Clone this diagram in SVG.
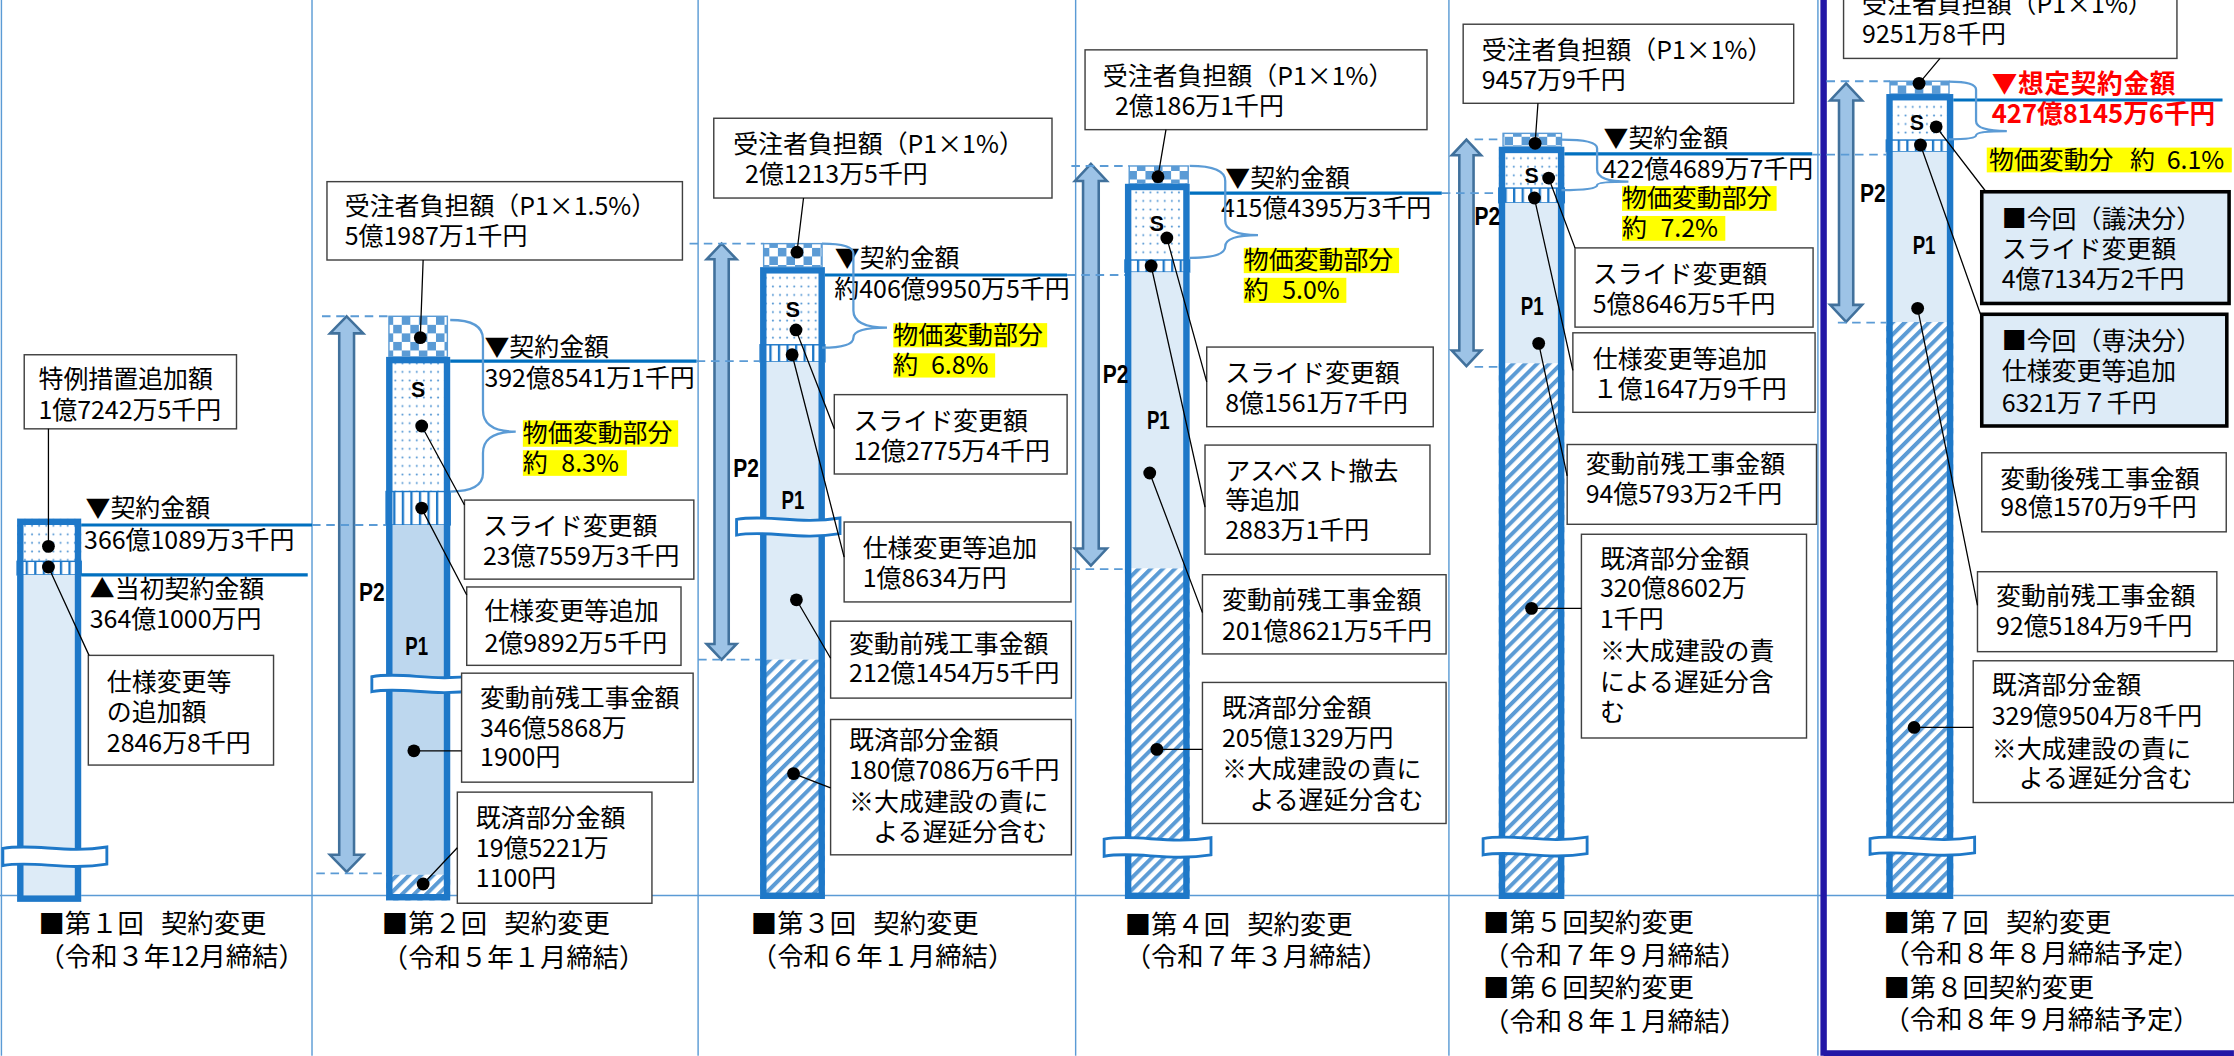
<svg xmlns="http://www.w3.org/2000/svg" width="2234" height="1056" viewBox="0 0 2234 1056">
<defs>
<style>
.t{font-family:"Noto Sans CJK JP","Noto Sans CJK SC",sans-serif;font-size:17.5px;fill:#000}
.cap{font-size:18.5px}
.red{fill:#FF0000;font-weight:bold;font-size:18px}
.lbl{font-family:"Liberation Sans",Arial,sans-serif;font-weight:bold;fill:#000}
.pl{font-size:18px}
.sl{font-size:15px}
.box{fill:#fff;stroke:#404040;stroke-width:1}
.bbox{fill:#DDEBF7;stroke:#000;stroke-width:2.5}
.lead{stroke:#000;stroke-width:0.9;fill:none}
.bar{fill:none;stroke:#1E78C8;stroke-width:4.5}
.cl{stroke:#0070C0;stroke-width:2.2;fill:none}
.dash{stroke:#5B9BD5;stroke-width:1.3;stroke-dasharray:6 4;fill:none}
.sep{stroke:#5B9BD5;stroke-width:1;fill:none}
.brace{fill:none;stroke:#5B9BD5;stroke-width:1.6}
.arr{fill:#9DC3E6;stroke:#41719C;stroke-width:1.8}
.brk{fill:#fff;stroke:#1E78C8;stroke-width:2}
.hl{fill:#FFFF00}
.p1a{fill:#DDEBF7}
.p1b{fill:#BDD7EE}
.chk{fill:url(#chk);stroke:#5B9BD5;stroke-width:1}
.dts{fill:url(#dots)}
.vs{fill:url(#vst);stroke:#1E78C8;stroke-width:1}
.hat{fill:url(#hat)}
</style>
<pattern id="chk" width="12" height="12" patternUnits="userSpaceOnUse"><rect width="12" height="12" fill="#fff"/><rect width="6" height="6" fill="#5B9BD5"/><rect x="6" y="6" width="6" height="6" fill="#5B9BD5"/></pattern>
<pattern id="dots" width="5" height="6" patternUnits="userSpaceOnUse"><rect width="5" height="6" fill="#fff"/><circle cx="2.5" cy="3" r="0.75" fill="#5B9BD5"/></pattern>
<pattern id="vst" width="6" height="10" patternUnits="userSpaceOnUse"><rect width="6" height="10" fill="#fff"/><rect width="1.6" height="10" fill="#1E78C8"/></pattern>
<pattern id="hat" width="6" height="6" patternUnits="userSpaceOnUse" patternTransform="rotate(45)"><rect width="6" height="6" fill="#fff"/><rect width="2.8" height="6" fill="#5B9BD5"/></pattern>
</defs>
<rect width="2234" height="1056" fill="#fff"/>
<g transform="scale(1.4247)">

<g id="grid">
<path class="sep" d="M1,0V741M219,0V741M490,0V741M755,0V741M1017,0V741M1276,0V741"/>
<path class="sep" stroke-width="1.3" d="M0,628.5H1568"/>
<path d="M1280,0V741M1280,739.5H1568" stroke="#2317A6" stroke-width="4.5" fill="none"/>
</g>

<g id="col1">
<g id="bar1">
<rect class="dts" x="12" y="364" width="45" height="30"/>
<rect class="vs" x="12" y="394" width="45" height="9.5"/>
<rect class="p1a" x="12" y="403.5" width="45" height="229.5"/>
<rect class="bar" x="14.25" y="366.25" width="40.5" height="264.5"/>
<path class="brk" d="M2,595.5 C23.9,591.5 45.8,599.5 75,594.5 L75,606.5 C45.8,611.5 23.9,603.5 2,607.5 Z"/>
</g>
<g id="c1-tokurei"><rect class="box" x="17" y="249" width="149" height="52"/>
<text class="t" x="27" y="272">特例措置追加額</text><text class="t" x="27" y="294">1億7242万5千円</text></g>
<g id="c1-shiyou"><rect class="box" x="62" y="460" width="130" height="77"/>
<text class="t" x="75" y="485">仕様変更等</text><text class="t" x="75" y="506">の追加額</text><text class="t" x="75" y="528">2846万8千円</text></g>
<g id="c1-labels">
<text class="t" x="60" y="363">▼契約金額</text><text class="t" x="59" y="385">366億1089万3千円</text>
<text class="t" x="63" y="420">▲当初契約金額</text><text class="t" x="63" y="441">364億1000万円</text>
<text class="t cap" x="27" y="655">■第１回 <tspan x="113">契約変更</tspan></text><text class="t cap" x="27" y="678">（令和３年12月締結）</text>
</g>
</g>

<g id="col2">
<g id="bar2">
<path class="arr" d="M243.3,222 L255,234 L248.5,234 L248.5,600 L255,600 L243.3,612 L231.6,600 L238.1,600 L238.1,234 L231.6,234 Z"/>
<rect class="chk" x="273" y="222" width="41" height="28.5"/>
<rect class="dts" x="271" y="250.5" width="45" height="94.5"/>
<rect class="vs" x="271" y="345" width="45" height="23.5"/>
<rect class="p1b" x="271" y="368.5" width="45" height="245.5"/>
<rect class="hat" x="271" y="614" width="45" height="18"/>
<rect class="bar" x="273.25" y="252.75" width="40.5" height="377"/>
<path class="brk" d="M261,475 C282.6,471 304.2,479 333,474 L333,484.5 C304.2,489.5 282.6,481.5 261,485.5 Z"/>
<text class="lbl sl" x="293.5" y="279" text-anchor="middle">S</text>
<text class="lbl pl" x="284.5" y="460" textLength="16" lengthAdjust="spacingAndGlyphs">P1</text>
<text class="lbl pl" x="252" y="422" textLength="18" lengthAdjust="spacingAndGlyphs">P2</text>
</g>
<g id="c2-futan"><rect class="box" x="229.5" y="127.5" width="249.5" height="55"/>
<text class="t" x="242" y="151">受注者負担額（P1×1.5%）</text><text class="t" x="242" y="172">5億1987万1千円</text></g>
<g id="c2-slide"><rect class="box" x="326" y="351" width="161" height="55.5"/>
<text class="t" x="339" y="375.6">スライド変更額</text><text class="t" x="339" y="396.6">23億7559万3千円</text></g>
<g id="c2-shiyou"><rect class="box" x="327.6" y="412" width="150.4" height="55"/>
<text class="t" x="340" y="435">仕様変更等追加</text><text class="t" x="340" y="457.5">2億9892万5千円</text></g>
<g id="c2-zan"><rect class="box" x="324" y="472.5" width="162.5" height="76.5"/>
<text class="t" x="337" y="496">変動前残工事金額</text><text class="t" x="337" y="517">346億5868万</text><text class="t" x="337" y="538">1900円</text></g>
<g id="c2-kisai"><rect class="box" x="321" y="556" width="136.6" height="78"/>
<text class="t" x="334" y="580.5">既済部分金額</text><text class="t" x="334" y="601.5">19億5221万</text><text class="t" x="334" y="622.6">1100円</text></g>
<g id="c2-labels">
<text class="t" x="340" y="250">▼契約金額</text><text class="t" x="340" y="271.6">392億8541万1千円</text>
<rect class="hl" x="367" y="295" width="109" height="18.6"/><rect class="hl" x="367" y="316" width="73" height="18"/>
<text class="t" x="367" y="310">物価変動部分</text><text class="t" x="367" y="331">約 <tspan x="394">8.3%</tspan></text>
<text class="t cap" x="268" y="655">■第２回 <tspan x="354">契約変更</tspan></text><text class="t cap" x="268" y="678.6">（令和５年１月締結）</text>
</g>
</g>

<g id="col3">
<g id="bar3">
<path class="arr" d="M506.5,171 L517,182 L511.5,182 L511.5,452 L517,452 L506.5,463 L496,452 L501.5,452 L501.5,182 L496,182 Z"/>
<rect class="chk" x="536" y="171" width="41" height="16.5"/>
<rect class="dts" x="533.5" y="187.5" width="45.5" height="54.5"/>
<rect class="vs" x="533.5" y="242" width="45.5" height="12"/>
<rect class="p1a" x="533.5" y="254" width="45.5" height="209"/>
<rect class="hat" x="533.5" y="463" width="45.5" height="168"/>
<rect class="bar" x="535.75" y="189.75" width="41" height="439"/>
<path class="brk" d="M517,364.6 C538.8,360.6 560.6,368.6 589.6,363.6 L589.6,374.6 C560.6,379.6 538.8,371.6 517,375.6 Z"/>
<text class="lbl sl" x="556.6" y="222.5" text-anchor="middle">S</text>
<text class="lbl pl" x="548.6" y="357" textLength="16" lengthAdjust="spacingAndGlyphs">P1</text>
<text class="lbl pl" x="514.6" y="335" textLength="18" lengthAdjust="spacingAndGlyphs">P2</text>
</g>
<g id="c3-futan"><rect class="box" x="501" y="83" width="237.4" height="56"/>
<text class="t" x="514.6" y="107.6">受注者負担額（P1×1%）</text><text class="t" x="523" y="128.6">2億1213万5千円</text></g>
<g id="c3-slide"><rect class="box" x="585.6" y="277" width="163.4" height="55.7"/>
<text class="t" x="599" y="302">スライド変更額</text><text class="t" x="599" y="323">12億2775万4千円</text></g>
<g id="c3-shiyou"><rect class="box" x="592.5" y="366.4" width="159.2" height="56.1"/>
<text class="t" x="605.5" y="391">仕様変更等追加</text><text class="t" x="605.5" y="412">1億8634万円</text></g>
<g id="c3-zan"><rect class="box" x="583" y="436" width="169" height="54"/>
<text class="t" x="596" y="458">変動前残工事金額</text><text class="t" x="596" y="479">212億1454万5千円</text></g>
<g id="c3-kisai"><rect class="box" x="583" y="505" width="169" height="95"/>
<text class="t" x="596" y="526">既済部分金額</text><text class="t" x="596" y="547">180億7086万6千円</text><text class="t" x="596" y="569">※大成建設の責に</text><text class="t" x="613" y="590">よる遅延分含む</text></g>
<g id="c3-labels">
<text class="t" x="586" y="187.6">▼契約金額</text><text class="t" x="585.6" y="209">約406億9950万5千円</text>
<rect class="hl" x="627" y="226.8" width="108" height="17"/><rect class="hl" x="627" y="248" width="71.5" height="17"/>
<text class="t" x="627" y="241.5">物価変動部分</text><text class="t" x="627" y="262.5">約 <tspan x="653.5">6.8%</tspan></text>
<text class="t cap" x="527" y="655">■第３回 <tspan x="613">契約変更</tspan></text><text class="t cap" x="527" y="678">（令和６年１月締結）</text>
</g>
</g>

<g id="col4">
<g id="bar4">
<path class="arr" d="M765.7,115 L776.9,127 L771.2,127 L771.2,385 L776.9,385 L765.7,397 L754.5,385 L760.2,385 L760.2,127 L754.5,127 Z"/>
<rect class="chk" x="792.6" y="116.5" width="41.4" height="12.5"/>
<rect class="dts" x="789.6" y="129" width="45.4" height="53.5"/>
<rect class="vs" x="789.6" y="182.5" width="45.4" height="8.5"/>
<rect class="p1a" x="789.6" y="191" width="45.4" height="208"/>
<rect class="hat" x="789.6" y="399" width="45.4" height="232"/>
<rect class="bar" x="791.85" y="131.25" width="40.9" height="497.5"/>
<path class="brk" d="M775,589 C797.5,585 820,593 850,588 L850,600 C820,605 797.5,597 775,601 Z"/>
<text class="lbl sl" x="812" y="162" text-anchor="middle">S</text>
<text class="lbl pl" x="805" y="301" textLength="16" lengthAdjust="spacingAndGlyphs">P1</text>
<text class="lbl pl" x="774" y="269" textLength="18" lengthAdjust="spacingAndGlyphs">P2</text>
</g>
<g id="c4-futan"><rect class="box" x="761.6" y="35" width="240" height="56"/>
<text class="t" x="774" y="59.7">受注者負担額（P1×1%）</text><text class="t" x="782.6" y="80.7">2億186万1千円</text></g>
<g id="c4-slide"><rect class="box" x="847" y="243.6" width="159" height="55.9"/>
<text class="t" x="860" y="268">スライド変更額</text><text class="t" x="860" y="289">8億1561万7千円</text></g>
<g id="c4-asbestos"><rect class="box" x="845.8" y="312.4" width="157.9" height="76.6"/>
<text class="t" x="860" y="337">アスベスト撤去</text><text class="t" x="860" y="357">等追加</text><text class="t" x="860" y="378">2883万1千円</text></g>
<g id="c4-zan"><rect class="box" x="844" y="403.4" width="171" height="55.6"/>
<text class="t" x="857.7" y="427.4">変動前残工事金額</text><text class="t" x="857.7" y="449">201億8621万5千円</text></g>
<g id="c4-kisai"><rect class="box" x="844" y="479" width="171" height="99"/>
<text class="t" x="857.7" y="503">既済部分金額</text><text class="t" x="857.7" y="524.4">205億1329万円</text><text class="t" x="857.7" y="546">※大成建設の責に</text><text class="t" x="877" y="568">よる遅延分含む</text></g>
<g id="c4-labels">
<text class="t" x="860" y="131">▼契約金額</text><text class="t" x="857" y="152">415億4395万3千円</text>
<rect class="hl" x="873" y="174" width="109" height="17.7"/><rect class="hl" x="873" y="195" width="72" height="17.6"/>
<text class="t" x="873" y="188.8">物価変動部分</text><text class="t" x="873" y="209.6">約 <tspan x="900">5.0%</tspan></text>
<text class="t cap" x="789.4" y="655.4">■第４回 <tspan x="875.4">契約変更</tspan></text><text class="t cap" x="789.4" y="678">（令和７年３月締結）</text>
</g>
</g>

<g id="col5">
<g id="bar5">
<path class="arr" d="M1029.3,98 L1039.6,109 L1034.3,109 L1034.3,246 L1039.6,246 L1029.3,257 L1019,246 L1024.3,246 L1024.3,109 L1019,109 Z"/>
<rect class="chk" x="1055" y="93.6" width="41" height="9.4"/>
<rect class="dts" x="1052" y="103" width="46" height="29"/>
<rect class="vs" x="1052" y="132" width="46" height="10.4"/>
<rect class="p1a" x="1052" y="142.4" width="46" height="112.6"/>
<rect class="hat" x="1052" y="255" width="46" height="376"/>
<rect class="bar" x="1054.25" y="105.25" width="41.5" height="523.5"/>
<path class="brk" d="M1041,588.6 C1062.9,584.6 1084.8,592.6 1114,587.6 L1114,599.1 C1084.8,604.1 1062.9,596.1 1041,600.1 Z"/>
<text class="lbl sl" x="1075" y="128.5" text-anchor="middle">S</text>
<text class="lbl pl" x="1067.5" y="221" textLength="16" lengthAdjust="spacingAndGlyphs">P1</text>
<text class="lbl pl" x="1035" y="158" textLength="18" lengthAdjust="spacingAndGlyphs">P2</text>
</g>
<g id="c5-futan"><rect class="box" x="1027" y="17" width="232" height="55.5"/>
<text class="t" x="1040" y="41.7">受注者負担額（P1×1%）</text><text class="t" x="1040" y="62.8">9457万9千円</text></g>
<g id="c5-slide"><rect class="box" x="1105.5" y="174" width="167.1" height="55.6"/>
<text class="t" x="1118" y="198.9">スライド変更額</text><text class="t" x="1118" y="220">5億8646万5千円</text></g>
<g id="c5-shiyou"><rect class="box" x="1104" y="233.6" width="170" height="55.8"/>
<text class="t" x="1118" y="258.5">仕様変更等追加</text><text class="t" x="1118" y="279.6">１億1647万9千円</text></g>
<g id="c5-zan"><rect class="box" x="1100" y="312" width="175" height="56"/>
<text class="t" x="1113" y="332">変動前残工事金額</text><text class="t" x="1113" y="353">94億5793万2千円</text></g>
<g id="c5-kisai"><rect class="box" x="1110" y="375" width="158" height="143"/>
<text class="t" x="1123" y="398.5">既済部分金額</text><text class="t" x="1123" y="419">320億8602万</text><text class="t" x="1123" y="441">1千円</text><text class="t" x="1123" y="463">※大成建設の責</text><text class="t" x="1123" y="485">による遅延分含</text><text class="t" x="1123" y="506">む</text></g>
<g id="c5-labels">
<text class="t" x="1125.5" y="103">▼契約金額</text><text class="t" x="1125" y="125">422億4689万7千円</text>
<rect class="hl" x="1138.5" y="130.6" width="108.5" height="17.4"/><rect class="hl" x="1138.5" y="151.6" width="72.5" height="17.4"/>
<text class="t" x="1138.5" y="145.3">物価変動部分</text><text class="t" x="1138.5" y="166.3">約 <tspan x="1165.5">7.2%</tspan></text>
<text class="t cap" x="1041" y="654">■第５回契約変更</text><text class="t cap" x="1041" y="677">（令和７年９月締結）</text>
<text class="t cap" x="1041" y="700">■第６回契約変更</text><text class="t cap" x="1041" y="724">（令和８年１月締結）</text>
</g>
</g>

<g id="col6">
<g id="bar6">
<path class="arr" d="M1295.8,58.5 L1307,70.5 L1300.8,70.5 L1300.8,214 L1307,214 L1295.8,226 L1284.6,214 L1290.8,214 L1290.8,70.5 L1284.6,70.5 Z"/>
<rect class="chk" x="1326.6" y="57" width="41.4" height="9"/>
<rect class="dts" x="1324" y="66" width="47" height="32.3"/>
<rect class="vs" x="1324" y="98.3" width="47" height="8.2"/>
<rect class="p1a" x="1324" y="106.5" width="47" height="119.5"/>
<rect class="hat" x="1324" y="226" width="47" height="405"/>
<rect class="bar" x="1326.25" y="68.25" width="42.5" height="560.5"/>
<path class="brk" d="M1312.6,588.6 C1334.6,584.6 1356.6,592.6 1386,587.6 L1386,598.6 C1356.6,603.6 1334.6,595.6 1312.6,599.6 Z"/>
<text class="lbl sl" x="1345.5" y="91" text-anchor="middle">S</text>
<text class="lbl pl" x="1342.5" y="178" textLength="16" lengthAdjust="spacingAndGlyphs">P1</text>
<text class="lbl pl" x="1305.6" y="142" textLength="18" lengthAdjust="spacingAndGlyphs">P2</text>
</g>
<g id="c6-futan"><rect class="box" x="1294" y="-20" width="234" height="61"/>
<text class="t" x="1307" y="9.4">受注者負担額（P1×1%）</text><text class="t" x="1307" y="30.4">9251万8千円</text></g>
<g id="c6-giketsu"><rect class="bbox" x="1391" y="134.6" width="173.6" height="78.4"/>
<text class="t" x="1405" y="160">■今回（議決分）</text><text class="t" x="1405" y="181">スライド変更額</text><text class="t" x="1405" y="202.3">4億7134万2千円</text></g>
<g id="c6-senketsu"><rect class="bbox" x="1391" y="220.6" width="172" height="78.4"/>
<text class="t" x="1405" y="245.7">■今回（専決分）</text><text class="t" x="1405" y="266.7">仕様変更等追加</text><text class="t" x="1405" y="289">6321万７千円</text></g>
<g id="c6-zango"><rect class="box" x="1391" y="317.8" width="171.6" height="55.5"/>
<text class="t" x="1404" y="342.5">変動後残工事金額</text><text class="t" x="1404" y="362">98億1570万9千円</text></g>
<g id="c6-zanmae"><rect class="box" x="1388" y="401.3" width="168" height="56.1"/>
<text class="t" x="1401" y="425">変動前残工事金額</text><text class="t" x="1401" y="446">92億5184万9千円</text></g>
<g id="c6-kisai"><rect class="box" x="1385" y="463.8" width="183" height="99.5"/>
<text class="t" x="1398" y="486.8">既済部分金額</text><text class="t" x="1398" y="509">329億9504万8千円</text><text class="t" x="1398" y="531.7">※大成建設の責に</text><text class="t" x="1417" y="552.7">よる遅延分含む</text></g>
<g id="c6-labels">
<text class="t red" x="1398" y="65.5" letter-spacing="0.5">▼想定契約金額</text><text class="t red" x="1398" y="86.6">427億8145万6千円</text>
<rect class="hl" x="1394.5" y="103.6" width="172" height="17.4"/>
<text class="t" x="1396" y="118.3">物価変動分 <tspan x="1495">約 </tspan><tspan x="1520.8">6.1%</tspan></text>
<text class="t cap" x="1322" y="654">■第７回 <tspan x="1408">契約変更</tspan></text><text class="t cap" x="1322" y="676">（令和８年８月締結予定）</text>
<text class="t cap" x="1322" y="700">■第８回契約変更</text><text class="t cap" x="1322" y="722">（令和８年９月締結予定）</text>
</g>
</g>

<g id="connectors">
<path class="cl" d="M57,368.5H219M57,403.5H216M316,253.5H489M579,193H749M835,135.6H1012M1098,108H1272M1371,70.2H1560"/>
<path class="dash" d="M219,368.5H271M226,222H273M222,613H271M489,253.5H533.5M484,171H536M490,463H533.5M749,193H789.6M752,116.5H792.6M752,399.5H789.6M1012,135.6H1052M1035,97.8H1055M1035,257.5H1052M1272,108.5H1324M1282,57H1326.6M1290,226.5H1324"/>
<path class="brace" d="M316,224.6 Q339,224.6 339,238 L339,288 Q339,303 362,303 Q339,303 339,318 L339,332 Q339,345 316,345"/>
<path class="brace" d="M577,171 Q599,171 599,178 L599,218 Q599,230 622.6,230 Q599,230 599,237 Q599,244 577,244"/>
<path class="brace" d="M835,116.5 Q860,116.5 860,127 L860,155 Q860,165 883,165 Q860,165 860,173 Q860,181 835,181"/>
<path class="brace" d="M1096,98 Q1121,98 1121,104 L1121,119 Q1121,127.5 1143,127.5 Q1121,127.5 1121,130 Q1121,133.4 1096,133.4"/>
<path class="brace" d="M1368,57.3 Q1387,57.3 1387,63 L1387,85 Q1387,92 1408.6,92 Q1387,92 1387,95 Q1387,97.8 1368,97.8"/>
<path class="lead" d="M34,301L34,383.5M34,398L62.5,460"/>
<path class="lead" d="M297,182.5L295,237M296,299L326,354.5M296,357L327.6,417.6M290.5,527L324,527M297,620.5L321,595"/>
<path class="lead" d="M564,139L559.4,177M558.7,231.6L585.6,301M556,249L592.5,391M559,421L583,462M557,543L583,553"/>
<path class="lead" d="M818.4,91L812.8,124M819,167L847,268M808,186.7L845.8,356M807,332L844,430M812,526L844,526"/>
<path class="lead" d="M1079.5,72.5L1077.5,100.6M1087,125L1105.5,174M1077,139L1104,260M1080,241L1100,334M1075,427L1110,427"/>
<path class="lead" d="M1361.7,41L1347,58.5M1359,89L1394,134.6M1348,101.8L1391,223M1346,216.4L1388,425M1343.5,510.6L1385,510.6"/>
</g>

<g id="dots" fill="#000">
<circle cx="34" cy="383.5" r="4.5"/><circle cx="34" cy="398" r="4.5"/>
<circle cx="295" cy="237" r="4.5"/><circle cx="296" cy="299" r="4.5"/><circle cx="296" cy="356.6" r="4.5"/><circle cx="290.5" cy="527" r="4.5"/><circle cx="297" cy="620.5" r="4.5"/>
<circle cx="559.4" cy="177" r="4.5"/><circle cx="558.7" cy="231.6" r="4.5"/><circle cx="556" cy="249" r="4.5"/><circle cx="559" cy="421" r="4.5"/><circle cx="557" cy="543" r="4.5"/>
<circle cx="812.8" cy="124" r="4.5"/><circle cx="819" cy="167" r="4.5"/><circle cx="808" cy="186.7" r="4.5"/><circle cx="807" cy="332" r="4.5"/><circle cx="812" cy="526" r="4.5"/>
<circle cx="1077.5" cy="100.6" r="4.5"/><circle cx="1087" cy="125" r="4.5"/><circle cx="1077" cy="139" r="4.5"/><circle cx="1080" cy="241" r="4.5"/><circle cx="1075" cy="427" r="4.5"/>
<circle cx="1347" cy="58.5" r="4.5"/><circle cx="1359" cy="89" r="4.5"/><circle cx="1348" cy="101.8" r="4.5"/><circle cx="1346" cy="216.4" r="4.5"/><circle cx="1343.5" cy="510.6" r="4.5"/>
</g>

</g>
</svg>
